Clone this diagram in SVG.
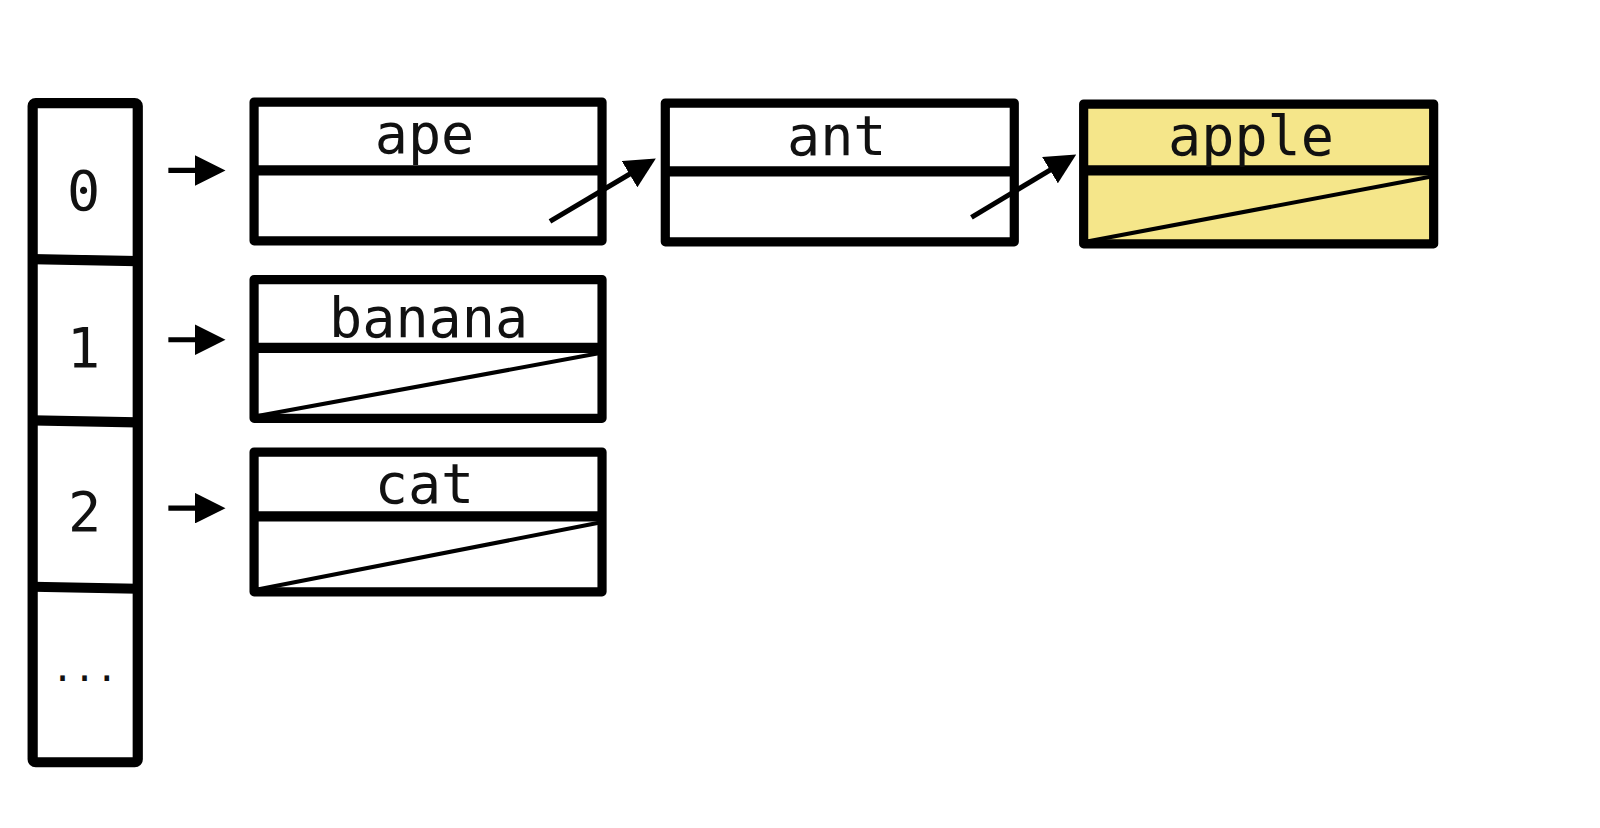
<svg xmlns="http://www.w3.org/2000/svg" width="1600" height="828" viewBox="0 0 1600 828">
<style>
.box{fill:#fff;stroke:#000;stroke-width:9;stroke-linejoin:round}
.hl{fill:#f5e68a}
.div{stroke:#000;stroke-width:10}
.nil{stroke:#000;stroke-width:4;fill:none}
.lbl{font-family:"DejaVu Sans Mono","Liberation Mono",monospace;font-size:54px;fill:#111;text-anchor:middle}
.arr{stroke:#000;stroke-width:5;fill:none}
</style>
<defs>
<marker id="ah" viewBox="0 0 10 10" refX="7" refY="5" markerWidth="30" markerHeight="30" markerUnits="userSpaceOnUse" orient="auto">
<path d="M0,0 L10,5 L0,10 Z" fill="#000" stroke="none"/>
</marker>
</defs>
<rect width="1600" height="828" fill="#fff"/>
<g transform="scale(1.0204)">
<g id="array">
<rect class="box" x="32" y="101" width="103" height="646" rx="3" style="stroke-width:10"/>
<line class="div" x1="32" y1="254" x2="135" y2="256"/>
<line class="div" x1="32" y1="412" x2="135" y2="414"/>
<line class="div" x1="32" y1="575" x2="135" y2="577"/>
<text class="lbl" x="82" y="206">0</text>
<text class="lbl" x="82" y="360">1</text>
<text class="lbl" x="83" y="520">2</text>
<text class="lbl" x="83" y="667" style="font-size:36px">...</text>
</g>
<g id="node-ape">
<rect class="box" x="249" y="100" width="341" height="136"/>
<line class="div" x1="249" y1="167" x2="590" y2="167"/>
<text class="lbl" x="416" y="150">ape</text>
</g>
<g id="node-ant">
<rect class="box" x="652" y="101" width="342" height="136"/>
<line class="div" x1="652" y1="168" x2="994" y2="168"/>
<text class="lbl" x="820" y="152">ant</text>
</g>
<g id="node-apple">
<rect class="box hl" x="1062" y="102" width="343" height="137"/>
<line class="div" x1="1062" y1="167" x2="1405" y2="167"/>
<line class="nil" x1="1064" y1="237" x2="1403" y2="173"/>
<text class="lbl" x="1226" y="152">apple</text>
</g>
<g id="node-banana">
<rect class="box" x="249" y="274" width="341" height="136"/>
<line class="div" x1="249" y1="341" x2="590" y2="341"/>
<line class="nil" x1="251" y1="408" x2="588" y2="346"/>
<text class="lbl" x="420" y="330">banana</text>
</g>
<g id="node-cat">
<rect class="box" x="249" y="443" width="341" height="137"/>
<line class="div" x1="249" y1="506" x2="590" y2="506"/>
<line class="nil" x1="251" y1="578" x2="588" y2="512"/>
<text class="lbl" x="416" y="493">cat</text>
</g>
<g id="connectors">
<line class="arr" x1="165" y1="167" x2="212" y2="167" marker-end="url(#ah)"/>
<line class="arr" x1="165" y1="333" x2="212" y2="333" marker-end="url(#ah)"/>
<line class="arr" x1="165" y1="498" x2="212" y2="498" marker-end="url(#ah)"/>
<line class="arr" x1="539" y1="217" x2="635" y2="160" marker-end="url(#ah)"/>
<line class="arr" x1="952" y1="213" x2="1047" y2="156" marker-end="url(#ah)"/>
</g>
</g>
</svg>
